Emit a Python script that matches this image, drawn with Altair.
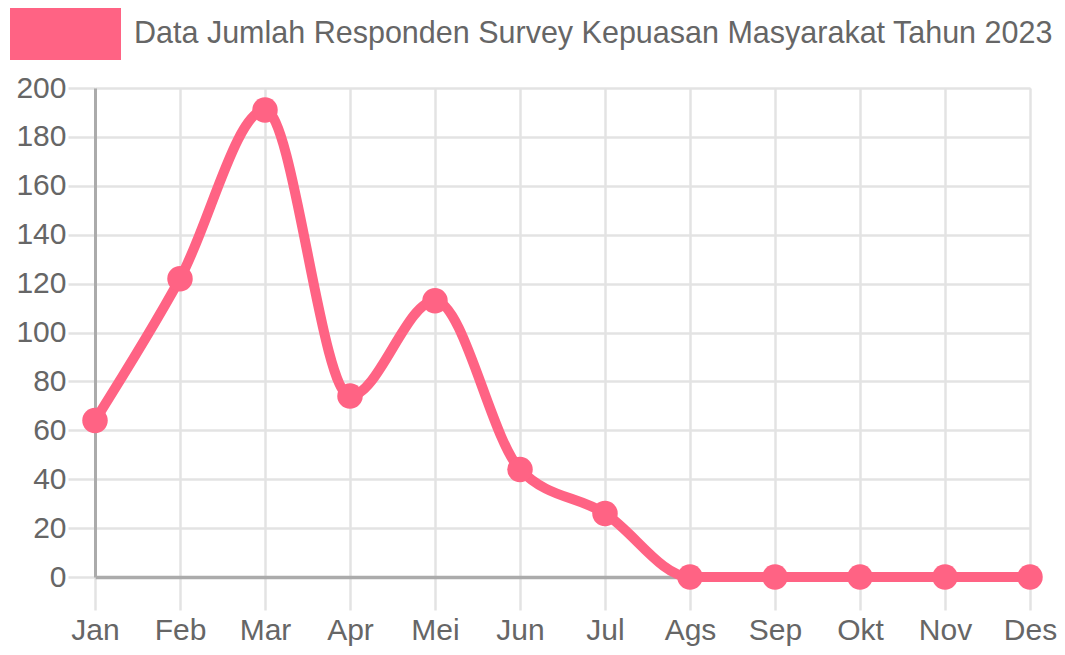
import altair as alt
import pandas as pd

months = ["Jan", "Feb", "Mar", "Apr", "Mei", "Jun", "Jul", "Ags", "Sep", "Okt", "Nov", "Des"]
responden = [64, 122, 191, 74, 113, 44, 26, 0, 0, 0, 0, 0]
series_name = "Data Jumlah Responden Survey Kepuasan Masyarakat Tahun 2023"

df = pd.DataFrame({"bulan": months, "jumlah": responden, "seri": [series_name] * len(months)})

FONT = "Liberation Sans, Arial, sans-serif"
PINK = "#FF6384"

x = alt.X("bulan:N", sort=months, scale=alt.Scale(type="point", padding=0),
          axis=alt.Axis(title=None, labelAngle=0, grid=True, gridColor="#e3e3e3", gridWidth=2.5,
                        tickColor="#e3e3e3", tickWidth=2.5, tickSize=33, domain=True,
                        domainColor="#ababab", domainWidth=3.5, labelPadding=5,
                        labelFont=FONT, labelFontSize=30, labelColor="#666666"))
y = alt.Y("jumlah:Q", scale=alt.Scale(domain=[0, 200], nice=False),
          axis=alt.Axis(title=None, values=list(range(0, 201, 20)), grid=True, gridColor="#e3e3e3",
                        gridWidth=2.5, tickColor="#e3e3e3", tickWidth=2.5, tickSize=27,
                        domainColor="#ababab", domainWidth=3, labelPadding=2,
                        labelFont=FONT, labelFontSize=30, labelColor="#666666"))
color = alt.Color("seri:N", scale=alt.Scale(range=[PINK]),
                  legend=alt.Legend(title=None, orient="none", legendX=-85, legendY=-110,
                                    symbolType="M-1,-0.463H1V0.463H-1Z", symbolSize=11664,
                                    symbolFillColor=PINK, symbolStrokeColor="#ffb3c3",
                                    symbolStrokeWidth=3, symbolOpacity=1, labelOffset=13,
                                    labelFont=FONT, labelFontSize=30.5, labelColor="#666666",
                                    labelLimit=2000, padding=0))

base = alt.Chart(df)
line = base.mark_line(interpolate="monotone", strokeWidth=10).encode(x=x, y=y, color=color)
pts = base.mark_point(filled=True, size=650, opacity=1, shape="circle").encode(x=x, y=y, color=color)

chart = (line + pts).properties(
    width=935, height=489,
    autosize=alt.AutoSizeParams(type="none"),
    padding={"left": 87, "top": 80, "right": 27, "bottom": 70},
).configure_view(stroke=None).configure(background="white")

chart.save("out.html", embed_options={"renderer": "svg", "actions": False})
